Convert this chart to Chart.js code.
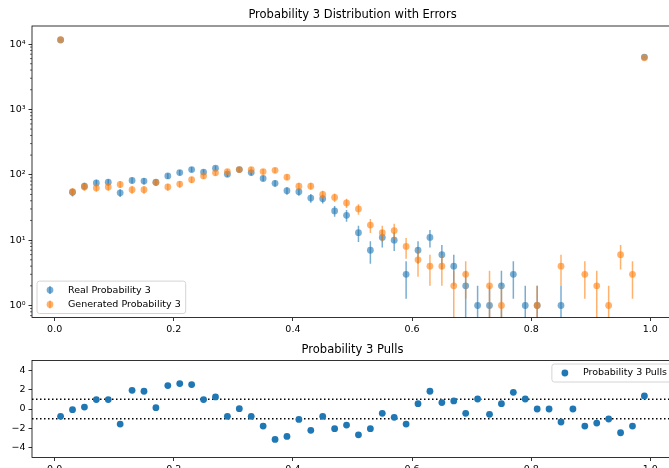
<!DOCTYPE html>
<html>
<head>
<meta charset="utf-8">
<script src="https://cdn.jsdelivr.net/npm/chart.js@4.4.0/dist/chart.umd.min.js"></script>
<style>
  html, body { margin: 0; padding: 0; background: #fff; overflow: hidden; width: 669px; height: 468px; }
  canvas { position: absolute; left: 0; }
  #distChart { top: 0; }
  #pullChart { top: 335px; }
</style>
</head>
<body>
<canvas id="distChart" width="680" height="335"></canvas>
<canvas id="pullChart" width="680" height="145"></canvas>
<script>
// -----------------------------
// Data
// -----------------------------
const binCentres = [0.01, 0.03, 0.05, 0.07, 0.09, 0.11, 0.13, 0.15, 0.17, 0.19,
    0.21, 0.23, 0.25, 0.27, 0.29, 0.31, 0.33, 0.35, 0.37, 0.39,
    0.41, 0.43, 0.45, 0.47, 0.49, 0.51, 0.53, 0.55, 0.57, 0.59,
    0.61, 0.63, 0.65, 0.67, 0.69, 0.71, 0.73, 0.75, 0.77, 0.79,
    0.81, 0.83, 0.85, 0.87, 0.89, 0.91, 0.93, 0.95, 0.97, 0.99];

const realCounts = [11540, 54, 67, 75, 77, 53, 82, 80, 77, 96,
    108, 120, 110, 126, 102, 120, 108, 88, 74, 57,
    55, 44, 43, 28, 24, 13, 7, 11, 10, 3,
    7, 11, 6, 4, 2, 1, 1, 2, 3, 1,
    1, 0, 1, 0, 0, 0, 0, 0, 0, 6325];

const generatedCounts = [11656, 55, 65, 63, 65, 71, 59, 59, 76, 65,
    72, 84, 96, 107, 112, 120, 120, 112, 117, 92,
    67, 67, 50, 45, 37, 30, 17, 13, 14, 8,
    5, 4, 4, 2, 3, 0, 2, 1, 0, 0,
    1, 0, 4, 0, 3, 2, 1, 6, 3, 6175];

const pulls = [-0.76, -0.07, 0.20, 0.97, 0.97, -1.55, 1.93, 1.83, 0.14, 2.41,
    2.62, 2.52, 0.97, 1.24, -0.76, 0.03, -0.76, -1.76, -3.14, -2.83,
    -1.07, -2.20, -0.76, -2.03, -1.66, -2.66, -2.03, -0.45, -0.86, -1.55,
    0.55, 1.83, 0.66, 0.83, -0.45, 1.03, -0.55, 0.55, 1.72, 1.03,
    0.00, 0.00, -1.34, 0.00, -1.76, -1.45, -1.03, -2.45, -1.76, 1.34];

const xTicks = [0, 0.2, 0.4, 0.6, 0.8, 1.0];
const logTicks = [1, 10, 100, 1000, 10000];
const pullTicks = [-4, -2, 0, 2, 4];
const pullBands = [1, -1];

// -----------------------------
// Styling helpers
// -----------------------------
const FONT = '"DejaVu Sans", "Liberation Sans", sans-serif';
const tickFont = { family: FONT, size: 9.5 };
const BLUE = 'rgba(31, 119, 180, 0.6)';
const ORANGE = 'rgba(255, 127, 14, 0.6)';
const SUP = { '0': '\u2070', '1': '\u00b9', '2': '\u00b2', '3': '\u00b3', '4': '\u2074' };

function toPoints(values) {
    // zero counts cannot sit on a log axis, leave them out
    return binCentres.map((x, i) => ({ x: x, y: values[i] > 0 ? values[i] : null }));
}

function minusSign(v) {
    return v < 0 ? '\u2212' + Math.abs(v) : String(v);
}

const xAxis = (height) => ({
    type: 'linear',
    min: -0.038,
    max: 1.038,
    afterBuildTicks: s => { s.ticks = xTicks.map(v => ({ value: v })); },
    afterFit: s => { s.height = height; },
    ticks: { font: tickFont, color: '#000', padding: 2.5, maxRotation: 0, autoSkip: false,
             callback: v => v.toFixed(1) },
    grid: { drawOnChartArea: false, drawTicks: true, tickLength: 3.5, tickColor: '#000', tickWidth: 0.8 },
    border: { display: false }
});

// -----------------------------
// Plugins
// -----------------------------
const errorBars = {
    id: 'errorBars',
    beforeDatasetDraw(chart, args) {
        const ds = chart.data.datasets[args.index];
        if (!ds.errors) return;
        const { ctx, chartArea, scales: { x, y } } = chart;
        ctx.save();
        ctx.beginPath();
        ctx.rect(chartArea.left, chartArea.top, chartArea.width, chartArea.height);
        ctx.clip();
        ctx.strokeStyle = ds.backgroundColor;
        ctx.lineWidth = 1.5;
        ds.data.forEach((p, i) => {
            if (p.y == null) return;
            const e = ds.errors[i];
            const px = x.getPixelForValue(p.x);
            const top = y.getPixelForValue(p.y + e);
            const bottom = p.y - e > 0 ? y.getPixelForValue(p.y - e) : chartArea.bottom + 2;
            ctx.beginPath();
            ctx.moveTo(px, top);
            ctx.lineTo(px, bottom);
            ctx.stroke();
        });
        ctx.restore();
    }
};

const logMinorTicks = {
    id: 'logMinorTicks',
    afterDraw(chart) {
        const { ctx, scales: { y } } = chart;
        if (y.type !== 'logarithmic') return;
        ctx.save();
        ctx.strokeStyle = '#000';
        ctx.lineWidth = 0.6;
        for (let d = -1; d <= 4; d++) {
            for (let k = 2; k <= 9; k++) {
                const v = k * Math.pow(10, d);
                if (v < y.min || v > y.max) continue;
                const py = y.getPixelForValue(v);
                ctx.beginPath();
                ctx.moveTo(y.right - 2, py);
                ctx.lineTo(y.right, py);
                ctx.stroke();
            }
        }
        ctx.restore();
    }
};

const pullLines = {
    id: 'pullLines',
    beforeDatasetsDraw(chart, args, opts) {
        if (!opts.values) return;
        const { ctx, chartArea, scales: { y } } = chart;
        ctx.save();
        ctx.strokeStyle = '#000';
        ctx.lineWidth = 1.5;
        ctx.setLineDash([1.5, 2.5]);
        opts.values.forEach(v => {
            const py = y.getPixelForValue(v);
            ctx.beginPath();
            ctx.moveTo(chartArea.left, py);
            ctx.lineTo(chartArea.right, py);
            ctx.stroke();
        });
        ctx.restore();
    }
};

const axesFrame = {
    id: 'axesFrame',
    afterDraw(chart, args, opts) {
        const { ctx, chartArea: a } = chart;
        ctx.save();
        ctx.strokeStyle = '#000';
        ctx.lineWidth = 0.8;
        ctx.strokeRect(a.left, a.top, a.right - a.left, a.bottom - a.top);

        // title above the axes box
        if (opts.title) {
            ctx.fillStyle = '#000';
            ctx.font = '11.5px ' + FONT;
            ctx.textAlign = 'center';
            ctx.textBaseline = 'middle';
            ctx.fillText(opts.title, (a.left + a.right) / 2, a.top - opts.titleGap);
        }

        // boxed legend inside the axes
        if (opts.legend) {
            const L = opts.legend;
            ctx.font = '9.5px ' + FONT;
            const textW = Math.max(...L.items.map(it => ctx.measureText(it.label).width));
            const w = 31 + textW + 5;
            const h = 9 + (L.items.length - 1) * 14.4 + 9;
            const left = L.corner === 'lower left' ? a.left + 5 : a.right - 1 - w;
            const top = L.corner === 'lower left' ? a.bottom - 4 - h : a.top + 3.5;
            ctx.beginPath();
            ctx.roundRect(left, top, w, h, 2.5);
            ctx.fillStyle = 'rgba(255, 255, 255, 0.8)';
            ctx.fill();
            ctx.strokeStyle = '#d4d4d4';
            ctx.lineWidth = 1;
            ctx.stroke();
            L.items.forEach((it, i) => {
                const cy = top + 9 + i * 14.4;
                const mx = left + 13;
                if (it.errorBar) {
                    ctx.strokeStyle = it.color;
                    ctx.lineWidth = 1.5;
                    ctx.beginPath();
                    ctx.moveTo(mx, cy - 4);
                    ctx.lineTo(mx, cy + 4);
                    ctx.stroke();
                }
                ctx.fillStyle = it.color;
                ctx.beginPath();
                ctx.arc(mx, cy, 3.4, 0, Math.PI * 2);
                ctx.fill();
                ctx.fillStyle = '#000';
                ctx.textAlign = 'left';
                ctx.textBaseline = 'middle';
                ctx.fillText(it.label, left + 31, cy);
            });
        }
        ctx.restore();
    }
};

// -----------------------------
// Distribution chart
// -----------------------------
new Chart(document.getElementById('distChart'), {
    type: 'scatter',
    data: {
        datasets: [
            { label: 'Real Probability 3', data: toPoints(realCounts), errors: realCounts.map(Math.sqrt),
              backgroundColor: BLUE, pointRadius: 3.4, pointBorderWidth: 0, order: 2 },
            { label: 'Generated Probability 3', data: toPoints(generatedCounts), errors: generatedCounts.map(Math.sqrt),
              backgroundColor: ORANGE, pointRadius: 3.4, pointBorderWidth: 0, order: 1 }
        ]
    },
    options: {
        responsive: false,
        animation: false,
        devicePixelRatio: 1,
        layout: { padding: { left: 0, right: 7, top: 26, bottom: 0 } },
        scales: {
            x: xAxis(17.5),
            y: {
                type: 'logarithmic',
                min: 0.655,
                max: 18900,
                afterBuildTicks: s => { s.ticks = logTicks.map(v => ({ value: v })); },
                afterFit: s => { s.width = 32; },
                ticks: { font: tickFont, color: '#000', padding: 3, autoSkip: false,
                         callback: v => '10' + SUP[String(Math.round(Math.log10(v)))] },
                grid: { drawOnChartArea: false, drawTicks: true, tickLength: 3.5, tickColor: '#000', tickWidth: 0.8 },
                border: { display: false }
            }
        },
        plugins: {
            legend: { display: false },
            tooltip: { enabled: false },
            axesFrame: {
                title: 'Probability 3 Distribution with Errors',
                titleGap: 11,
                legend: {
                    corner: 'lower left',
                    items: [
                        { label: 'Real Probability 3', color: BLUE, errorBar: true },
                        { label: 'Generated Probability 3', color: ORANGE, errorBar: true }
                    ]
                }
            }
        }
    },
    plugins: [errorBars, logMinorTicks, axesFrame]
});

// -----------------------------
// Pulls chart
// -----------------------------
new Chart(document.getElementById('pullChart'), {
    type: 'scatter',
    data: {
        datasets: [
            { label: 'Probability 3 Pulls', data: binCentres.map((x, i) => ({ x: x, y: pulls[i] })),
              backgroundColor: '#1f77b4', pointRadius: 3.4, pointBorderWidth: 0 }
        ]
    },
    options: {
        responsive: false,
        animation: false,
        devicePixelRatio: 1,
        layout: { padding: { left: 0, right: 7, top: 25.5, bottom: 0 } },
        scales: {
            x: xAxis(22.5),
            y: {
                type: 'linear',
                min: -5,
                max: 5,
                afterBuildTicks: s => { s.ticks = pullTicks.map(v => ({ value: v })); },
                afterFit: s => { s.width = 32; },
                ticks: { font: tickFont, color: '#000', padding: 3, autoSkip: false, callback: minusSign },
                grid: { drawOnChartArea: false, drawTicks: true, tickLength: 3.5, tickColor: '#000', tickWidth: 0.8 },
                border: { display: false }
            }
        },
        plugins: {
            legend: { display: false },
            tooltip: { enabled: false },
            pullLines: { values: pullBands },
            axesFrame: {
                title: 'Probability 3 Pulls',
                titleGap: 10.5,
                legend: {
                    corner: 'upper right',
                    items: [{ label: 'Probability 3 Pulls', color: '#1f77b4', errorBar: false }]
                }
            }
        }
    },
    plugins: [pullLines, axesFrame]
});
</script>
</body>
</html>
